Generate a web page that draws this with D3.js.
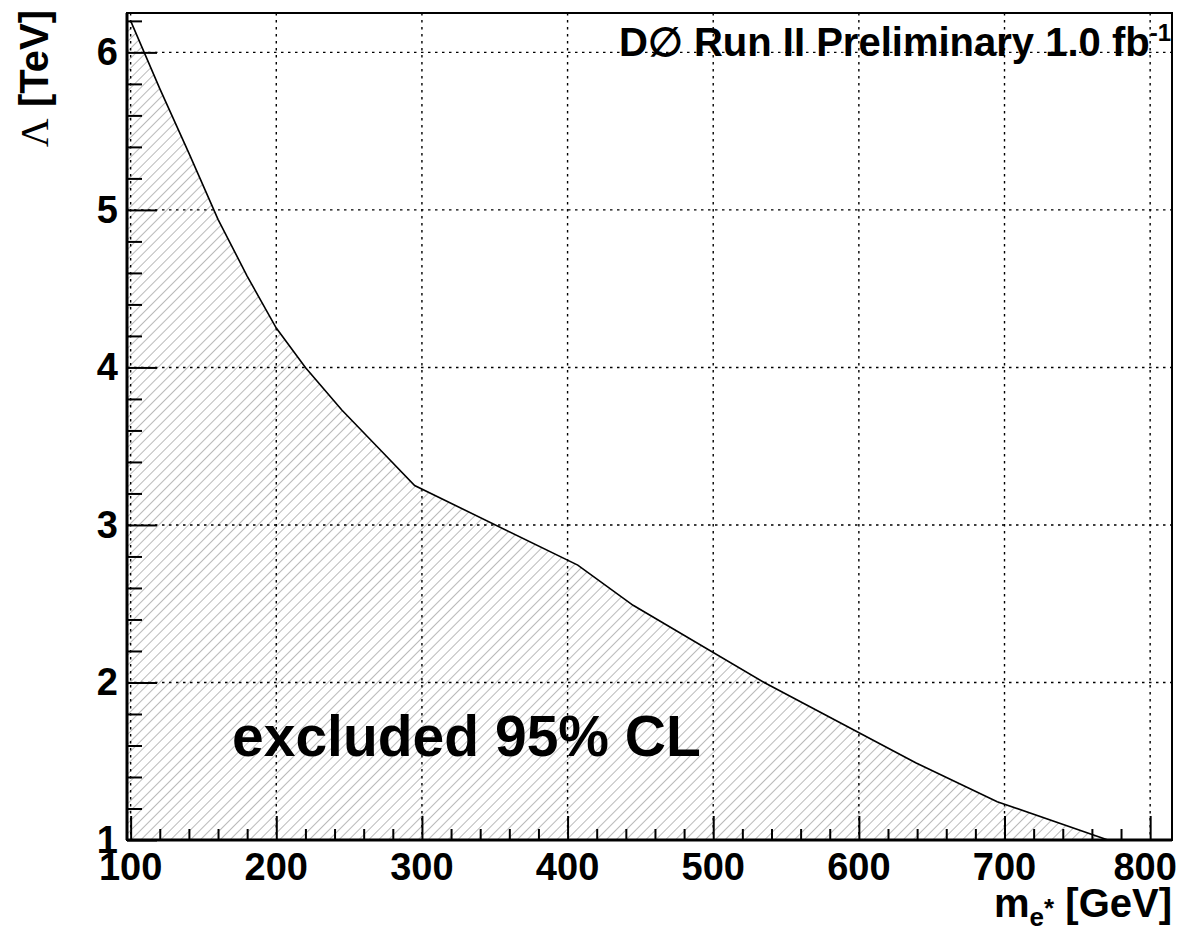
<!DOCTYPE html>
<html>
<head>
<meta charset="utf-8">
<script src="https://cdn.jsdelivr.net/npm/d3@7"></script>
<style>
  body { margin: 0; background: #fff; }
  text { font-family: "Liberation Sans", Arial, Helvetica, sans-serif; font-weight: bold; fill: #000; }
</style>
</head>
<body>
<svg id="chart" width="1184" height="929"></svg>
<script>
(function() {

    // excluded region boundary
    var massGeV   = [100, 120, 140, 160, 180, 200, 220, 245, 270, 295, 407, 445, 535, 639, 695, 771];
    var lambdaTeV = [6.2, 5.77, 5.36, 4.94, 4.58, 4.25, 4.0, 3.73, 3.49, 3.25, 2.745, 2.49, 2.0, 1.49, 1.243, 1.0];

    var xTicks = [100, 200, 300, 400, 500, 600, 700, 800];
    var yTicks = [1, 2, 3, 4, 5, 6];

    var frame = {left: 127, right: 1172, top: 13, bottom: 840};

    var svg = d3.select("#chart");

    var x = d3.scaleLinear().domain([97.5, 815]).range([frame.left, frame.right]);
    var y = d3.scaleLinear().domain([1, 6.25]).range([frame.bottom, frame.top]);

    var points = massGeV.map(function(m, i) { return {m: m, l: lambdaTeV[i]}; });

    /* hatch pattern like ROOT fill style 3004 */
    svg.append("defs").append("pattern")
        .attr("id", "hatch")
        .attr("patternUnits", "userSpaceOnUse")
        .attr("width", 7).attr("height", 7)
        .attr("patternTransform", "rotate(45)")
        .append("line")
        .attr("x1", 0.5).attr("y1", 0).attr("x2", 0.5).attr("y2", 7)
        .attr("stroke", "#bababa").attr("stroke-width", 1);

    // hatched area starts at the left frame edge
    var areaData = [{m: x.domain()[0], l: lambdaTeV[0]}].concat(points);
    var area = d3.area()
        .x(function(d) { return x(d.m); })
        .y0(y(1))
        .y1(function(d) { return y(d.l); });

    svg.append("path")
        .datum(areaData)
        .attr("d", area)
        .attr("fill", "url(#hatch)");

    // dotted grid
    var grid = svg.append("g")
        .attr("stroke", "#000")
        .attr("stroke-width", 1.4)
        .attr("stroke-dasharray", "2.5,4.5");

    grid.selectAll("line.vx")
        .data(xTicks)
        .enter().append("line")
        .attr("x1", function(d) { return x(d); })
        .attr("x2", function(d) { return x(d); })
        .attr("y1", frame.top).attr("y2", frame.bottom);

    grid.selectAll("line.hy")
        .data(yTicks.slice(1))
        .enter().append("line")
        .attr("x1", frame.left).attr("x2", frame.right)
        .attr("y1", function(d) { return y(d); })
        .attr("y2", function(d) { return y(d); });

    // limit curve
    var line = d3.line()
        .x(function(d) { return x(d.m); })
        .y(function(d) { return y(d.l); });

    svg.append("path")
        .datum(points)
        .attr("d", line)
        .attr("fill", "none")
        .attr("stroke", "#000")
        .attr("stroke-width", 1.6);

    // ticks (pointing inwards)
    var xMinor = d3.range(100, 815, 20).filter(function(v) { return v % 100 !== 0; });
    var yMinor = d3.range(1, 6.25, 0.2).map(function(v) { return +v.toFixed(1); })
        .filter(function(v) { return Math.abs(v - Math.round(v)) > 1e-6; });

    function inward(g) { g.select(".domain").remove(); g.selectAll("line").attr("stroke-width", 2); }

    svg.append("g")
        .attr("transform", "translate(0," + frame.bottom + ")")
        .call(d3.axisBottom(x).tickValues(xTicks).tickSize(-24).tickFormat("").tickSizeOuter(0))
        .call(inward);

    svg.append("g")
        .attr("transform", "translate(0," + frame.bottom + ")")
        .call(d3.axisBottom(x).tickValues(xMinor).tickSize(-11).tickFormat("").tickSizeOuter(0))
        .call(inward);

    svg.append("g")
        .attr("transform", "translate(" + frame.left + ",0)")
        .call(d3.axisLeft(y).tickValues(yTicks).tickSize(-30).tickFormat("").tickSizeOuter(0))
        .call(inward);

    svg.append("g")
        .attr("transform", "translate(" + frame.left + ",0)")
        .call(d3.axisLeft(y).tickValues(yMinor).tickSize(-15).tickFormat("").tickSizeOuter(0))
        .call(inward);

    // frame
    svg.append("rect")
        .attr("x", frame.left).attr("y", frame.top)
        .attr("width", frame.right - frame.left)
        .attr("height", frame.bottom - frame.top)
        .attr("fill", "none")
        .attr("stroke", "#000")
        .attr("stroke-width", 2);

    svg.append("line")
        .attr("x1", frame.left).attr("x2", frame.right)
        .attr("y1", frame.bottom).attr("y2", frame.bottom)
        .attr("stroke", "#000").attr("stroke-width", 3);

    svg.append("line")
        .attr("x1", frame.left).attr("x2", frame.left)
        .attr("y1", frame.top).attr("y2", frame.bottom)
        .attr("stroke", "#000").attr("stroke-width", 3);

    // tick labels
    svg.selectAll("text.xlab")
        .data(xTicks)
        .enter().append("text")
        .attr("class", "xlab")
        .attr("x", function(d) { return d === 800 ? x(d) - 5 : x(d); })
        .attr("y", 880)
        .attr("text-anchor", "middle")
        .style("font-size", "38px")
        .text(function(d) { return d; });

    svg.selectAll("text.ylab")
        .data(yTicks)
        .enter().append("text")
        .attr("class", "ylab")
        .attr("x", 118)
        .attr("y", function(d) { return y(d) + 13; })
        .attr("text-anchor", "end")
        .style("font-size", "38px")
        .text(function(d) { return d; });

    // axis titles
    var xt = svg.append("text")
        .attr("x", frame.right)
        .attr("y", 917)
        .attr("text-anchor", "end")
        .style("font-size", "40px");
    xt.append("tspan").text("m");
    xt.append("tspan").attr("dy", 9).style("font-size", "26px").text("e");
    xt.append("tspan").attr("dy", -9).style("font-size", "26px").text("*");
    xt.append("tspan").text(" [GeV]");

    var yt = svg.append("text")
        .attr("transform", "translate(48,10) rotate(-90)")
        .attr("text-anchor", "end")
        .style("font-size", "40px");
    yt.append("tspan")
        .style("font-family", "'Liberation Serif', 'DejaVu Serif', serif")
        .style("font-weight", "normal")
        .text("\u039B");
    yt.append("tspan").text(" [TeV]");

    // experiment label
    var lab = svg.append("text")
        .attr("x", frame.right - 1)
        .attr("y", 56)
        .attr("text-anchor", "end")
        .style("font-size", "40px");
    lab.append("tspan").text("D\u2205 Run II Preliminary 1.0 fb");
    lab.append("tspan").attr("dy", -15).style("font-size", "24px").text("-1");

    svg.append("text")
        .attr("x", 232)
        .attr("y", 756)
        .style("font-size", "57px")
        .text("excluded 95% CL");

})();
</script>
</body>
</html>
